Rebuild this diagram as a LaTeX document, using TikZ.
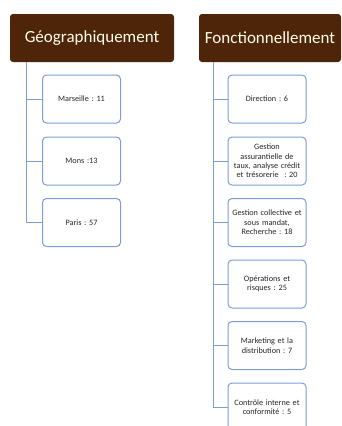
\documentclass[tikz,border=0pt]{standalone}
\usepackage{fontspec}
\setmainfont{Carlito}
\frenchspacing
\definecolor{hdr}{HTML}{4F2509}
\definecolor{lnk}{HTML}{7F9CD6}
\begin{document}
\begin{tikzpicture}[x=1pt,y=-1pt,
  header/.style={fill=hdr,draw=none,rounded corners=3pt,text=white!92!yellow,font=\fontsize{17}{20}\selectfont,inner sep=0pt},
  leaf/.style={draw=lnk,line width=1pt,fill=white,rounded corners=4pt,minimum width=78pt,minimum height=48pt,align=center,text width=76pt,inner sep=1pt,font=\fontsize{8.2}{9.4}\selectfont\frenchspacing,text=black!85},
  conn/.style={draw=lnk,line width=1pt}]
\useasboundingbox (0,0) rectangle (342,426);
\clip (0,0) rectangle (342,426);
% headers
\node[header,minimum width=164pt,minimum height=48pt] (g) at (92,38) {Géographiquement};
\node[header,minimum width=142pt,minimum height=48pt] (f) at (270,38) {Fonctionnellement};
% left leaves
\node[leaf] (m) at (81.5,99) {Marseille : 11};
\node[leaf] (mo) at (81.5,161) {Mons :13};
\node[leaf] (p) at (81.5,222.5) {Paris : 57};
% right leaves
\node[leaf] (d) at (267,99) {Direction : 6};
\node[leaf] (ga) at (267,161) {Gestion\\assurantielle de\\taux, analyse crédit\\et trésorerie~~: 20};
\node[leaf] (gc) at (267,222.5) {Gestion collective et\\sous mandat,\\Recherche : 18};
\node[leaf] (o) at (267,284) {Opérations et\\risques : 25};
\node[leaf] (mk) at (267,345.5) {Marketing et la\\distribution : 7};
\node[leaf] (c) at (267,407) {Contrôle interne et\\conformité : 5};
% connectors
\coordinate (gl) at (26,0);
\draw[conn] (g.south -| gl) |- (m.west);
\draw[conn] (g.south -| gl) |- (mo.west);
\draw[conn] (g.south -| gl) |- (p.west);
\coordinate (fl) at (213,0);
\foreach \n in {d,ga,gc,o,mk,c}{\draw[conn] (f.south -| fl) |- (\n.west);}
\end{tikzpicture}
\end{document}
